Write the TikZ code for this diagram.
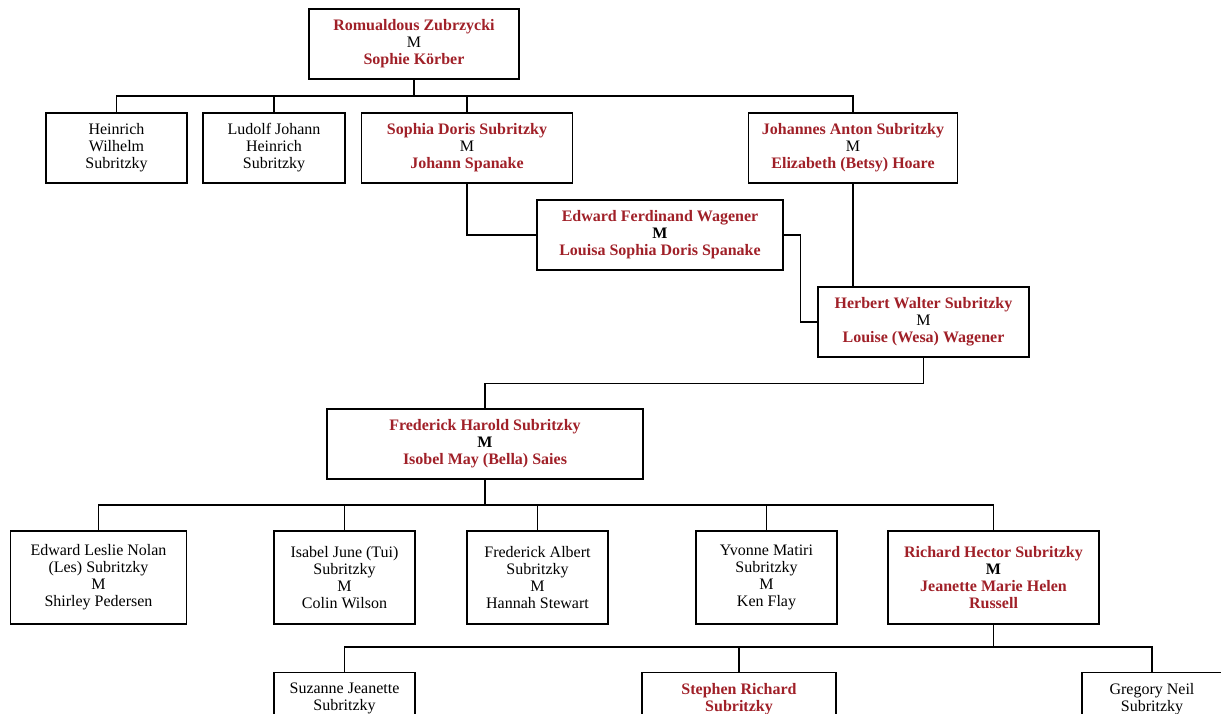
\documentclass[tikz,border=0pt]{standalone}
\usepackage{fontspec}
\setmainfont{Liberation Serif}

\definecolor{namered}{RGB}{160,32,40}
\newcommand{\nm}[1]{\textcolor{namered}{\textbf{#1}}}

\tikzset{
  person/.style={draw, line width=1.3pt, align=center, inner sep=0pt,
    font=\fontsize{16}{17}\selectfont},
  link/.style={line width=1.3pt},
}

\begin{document}
\begin{tikzpicture}[x=1pt,y=-1pt]

\useasboundingbox (0,0) rectangle (1221,714);
\clip (0,0) rectangle (1221,714);

\node [person, minimum width=210, minimum height=70] (rz) at (414,44)
  {\nm{Romualdous Zubrzycki}\\M\\\nm{Sophie K\"orber}};

\node [person, minimum width=141, minimum height=70] (hw) at (116.5,148)
  {Heinrich\\Wilhelm\\Subritzky};
\node [person, minimum width=142, minimum height=70] (lj) at (274,148)
  {Ludolf Johann\\Heinrich\\Subritzky};
\node [person, minimum width=211, minimum height=70] (sd) at (467,148)
  {\nm{Sophia Doris Subritzky}\\M\\\nm{Johann Spanake}};
\node [person, minimum width=209, minimum height=70] (ja) at (853,148)
  {\nm{Johannes Anton Subritzky}\\M\\\nm{Elizabeth (Betsy) Hoare}};

\node [person, minimum width=246, minimum height=70] (ew) at (660,235)
  {\nm{Edward Ferdinand Wagener}\\\textbf{M}\\\nm{Louisa Sophia Doris Spanake}};
\node [person, minimum width=211, minimum height=70] (hs) at (923.5,322)
  {\nm{Herbert Walter Subritzky}\\M\\\nm{Louise (Wesa) Wagener}};

\node [person, minimum width=316, minimum height=70] (fh) at (485,444)
  {\nm{Frederick Harold Subritzky}\\\textbf{M}\\\nm{Isobel May (Bella) Saies}};

\node [person, minimum width=176, minimum height=93] (el) at (98.5,577.5)
  {Edward Leslie Nolan\\(Les) Subritzky\\M\\Shirley Pedersen};
\node [person, minimum width=141, minimum height=93] (ij) at (344.5,577.5)
  {Isabel June (Tui)\\Subritzky\\M\\Colin Wilson};
\node [person, minimum width=141, minimum height=93] (fa) at (537.5,577.5)
  {Frederick Albert\\Subritzky\\M\\Hannah Stewart};
\node [person, minimum width=141, minimum height=93] (ym) at (766.5,577.5)
  {Yvonne Matiri\\Subritzky\\M\\Ken Flay};
\node [person, minimum width=211, minimum height=93] (rh) at (993.5,577.5)
  {\nm{Richard Hector Subritzky}\\\textbf{M}\\\nm{Jeanette Marie Helen}\\\nm{Russell}};

\node [person, anchor=north, minimum width=141, minimum height=83] (sj) at (344.5,672)
  {Suzanne Jeanette\\Subritzky\\\mbox{}\\\mbox{}};
\node [person, anchor=north, minimum width=194, minimum height=83] (sr) at (739,672)
  {\nm{Stephen Richard}\\\nm{Subritzky}\\\mbox{}\\\mbox{}};
\node [person, anchor=north, minimum width=140, minimum height=83] (gn) at (1152,672)
  {Gregory Neil\\Subritzky\\\mbox{}\\\mbox{}};

% first family
\coordinate (b1) at (414,96);
\draw [link] (rz.south) -- (b1);
\foreach \c in {hw,lj,sd,ja}
  \draw [link] (b1) -| (\c.north);

\draw [link] (sd.south) |- (ew.west);
\draw [link] (ew.east) -- ++(17,0) |- (hs.west);
\draw [link] (ja.south) -- (ja.south |- hs.north);
\draw [link] (hs.south) -- ++(0,26) -| (fh.north);

% children of Frederick Harold
\coordinate (b2) at (485,505);
\draw [link] (fh.south) -- (b2);
\foreach \c in {el,ij,fa,ym,rh}
  \draw [link] (b2) -| (\c.north);

% children of Richard Hector
\coordinate (b3) at (993.5,647);
\draw [link] (rh.south) -- (b3);
\foreach \c in {sj,sr,gn}
  \draw [link] (b3) -| (\c.north);

\end{tikzpicture}
\end{document}
